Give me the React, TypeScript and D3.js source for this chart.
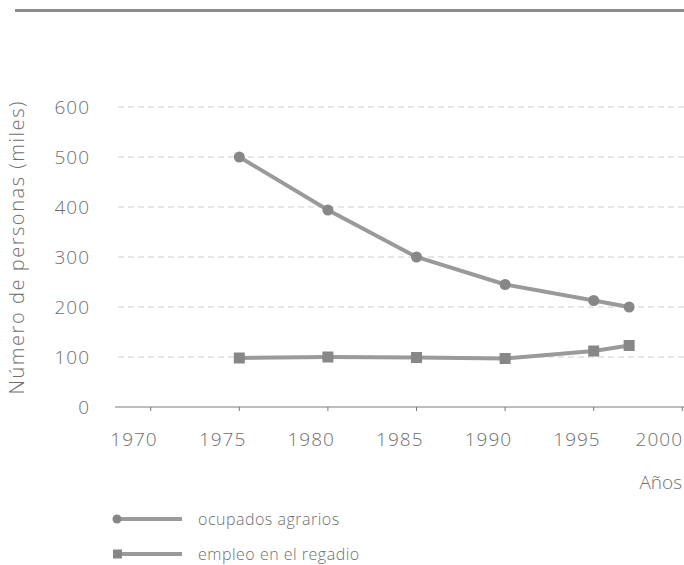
import { useEffect, useRef } from 'react';
import * as d3 from 'd3';

// Data
const years = [1976, 1981, 1986, 1991, 1996, 1998];
const ocupadosAgrarios = [500, 394, 300, 245, 213, 200];
const empleoRegadio = [98, 100, 99, 97, 112, 123];

const yTicks = [0, 100, 200, 300, 400, 500, 600];
const xLabels = [1970, 1975, 1980, 1985, 1990, 1995, 2000];
const xTickMarks = [1971, 1976, 1981, 1986, 1991, 1996, 2001];

const seriesNames = ['ocupados agrarios', 'empleo en el regadio'];

const WIDTH = 684;
const HEIGHT = 565;
const FONT = '"Open Sans", "DejaVu Sans", sans-serif';
const TEXT_COLOR = '#6f6f6f';
const LINE_COLOR = '#9a9a9a';
const MARKER_COLOR = '#878787';

export default function App() {
  const svgRef = useRef<SVGSVGElement>(null);

  useEffect(() => {
    document.body.style.margin = '0';
    if (!svgRef.current) return;

    const svg = d3.select(svgRef.current);
    svg.selectAll('*').remove();

    const x = d3.scaleLinear().domain([1970, 2001]).range([133, 682.3]);
    const y = d3.scaleLinear().domain([0, 600]).range([407, 107]);

    // Top rule
    svg.append('line')
      .attr('x1', 15).attr('x2', WIDTH)
      .attr('y1', 10.5).attr('y2', 10.5)
      .attr('stroke', '#8c8c8c')
      .attr('stroke-width', 3);

    // Dashed grid lines
    yTicks.filter(t => t > 0).forEach(t => {
      svg.append('line')
        .attr('x1', 118).attr('x2', WIDTH)
        .attr('y1', y(t)).attr('y2', y(t))
        .attr('stroke', '#cfcfcf')
        .attr('stroke-width', 1)
        .attr('stroke-dasharray', '6,4');
    });

    // X axis line and ticks
    svg.append('line')
      .attr('x1', 115).attr('x2', WIDTH)
      .attr('y1', y(0)).attr('y2', y(0))
      .attr('stroke', '#7a7a7a')
      .attr('stroke-width', 1);

    xTickMarks.forEach(t => {
      svg.append('line')
        .attr('x1', x(t)).attr('x2', x(t))
        .attr('y1', y(0)).attr('y2', y(0) + 4)
        .attr('stroke', '#7a7a7a')
        .attr('stroke-width', 1);
    });

    // Y tick labels
    yTicks.forEach(t => {
      svg.append('text')
        .attr('x', 90)
        .attr('y', y(t))
        .attr('dy', '0.35em')
        .attr('text-anchor', 'end')
        .attr('fill', TEXT_COLOR)
        .attr('font-family', FONT)
        .attr('font-weight', 300)
        .attr('font-size', 19)
        .attr('letter-spacing', 1)
        .text(t);
    });

    // X tick labels (last one pulled in so it stays inside the frame)
    xLabels.forEach(t => {
      const label = svg.append('text')
        .attr('x', x(t) + 1)
        .attr('y', 446)
        .attr('text-anchor', 'middle')
        .attr('fill', TEXT_COLOR)
        .attr('font-family', FONT)
        .attr('font-weight', 300)
        .attr('font-size', 19)
        .attr('letter-spacing', 1)
        .text(t);
      const node = label.node();
      if (node) {
        const box = node.getBBox();
        if (box.x + box.width > WIDTH - 1) {
          label.attr('x', x(t) + 1 - (box.x + box.width - (WIDTH - 1)));
        }
      }
    });

    // Axis titles
    svg.append('text')
      .attr('transform', 'translate(24, 248) rotate(-90)')
      .attr('text-anchor', 'middle')
      .attr('fill', TEXT_COLOR)
      .attr('font-family', FONT)
      .attr('font-weight', 300)
      .attr('font-size', 20)
      .attr('textLength', 293)
      .attr('lengthAdjust', 'spacing')
      .text('Número de personas (miles)');

    svg.append('text')
      .attr('x', 682)
      .attr('y', 489)
      .attr('text-anchor', 'end')
      .attr('fill', TEXT_COLOR)
      .attr('font-family', FONT)
      .attr('font-weight', 300)
      .attr('font-size', 19)
      .text('Años');

    // Series
    const line = d3.line<number>()
      .x((_, i) => x(years[i]))
      .y(d => y(d));

    svg.append('path')
      .attr('d', line(ocupadosAgrarios))
      .attr('fill', 'none')
      .attr('stroke', LINE_COLOR)
      .attr('stroke-width', 4);

    svg.append('path')
      .attr('d', line(empleoRegadio))
      .attr('fill', 'none')
      .attr('stroke', LINE_COLOR)
      .attr('stroke-width', 4);

    ocupadosAgrarios.forEach((v, i) => {
      svg.append('circle')
        .attr('cx', x(years[i]))
        .attr('cy', y(v))
        .attr('r', 5.5)
        .attr('fill', MARKER_COLOR);
    });

    empleoRegadio.forEach((v, i) => {
      svg.append('rect')
        .attr('x', x(years[i]) - 5.5)
        .attr('y', y(v) - 5.5)
        .attr('width', 11)
        .attr('height', 11)
        .attr('fill', MARKER_COLOR);
    });

    // Legend
    const legend = svg.append('g');
    seriesNames.forEach((name, i) => {
      const ly = 519 + i * 35;
      legend.append('line')
        .attr('x1', 117).attr('x2', 182)
        .attr('y1', ly).attr('y2', ly)
        .attr('stroke', LINE_COLOR)
        .attr('stroke-width', 4);
      if (i === 0) {
        legend.append('circle')
          .attr('cx', 117).attr('cy', ly).attr('r', 4.5)
          .attr('fill', MARKER_COLOR);
      } else {
        legend.append('rect')
          .attr('x', 113).attr('y', ly - 4.5)
          .attr('width', 9).attr('height', 9)
          .attr('fill', MARKER_COLOR);
      }
      legend.append('text')
        .attr('x', 198)
        .attr('y', ly)
        .attr('dy', '0.35em')
        .attr('fill', TEXT_COLOR)
        .attr('font-family', FONT)
        .attr('font-weight', 300)
        .attr('font-size', 16)
        .attr('letter-spacing', 0.5)
        .text(name);
    });
  }, []);

  return (
    <svg
      ref={svgRef}
      width={WIDTH}
      height={HEIGHT}
      viewBox={`0 0 ${WIDTH} ${HEIGHT}`}
      style={{ display: 'block', background: '#fff' }}
    />
  );
}
